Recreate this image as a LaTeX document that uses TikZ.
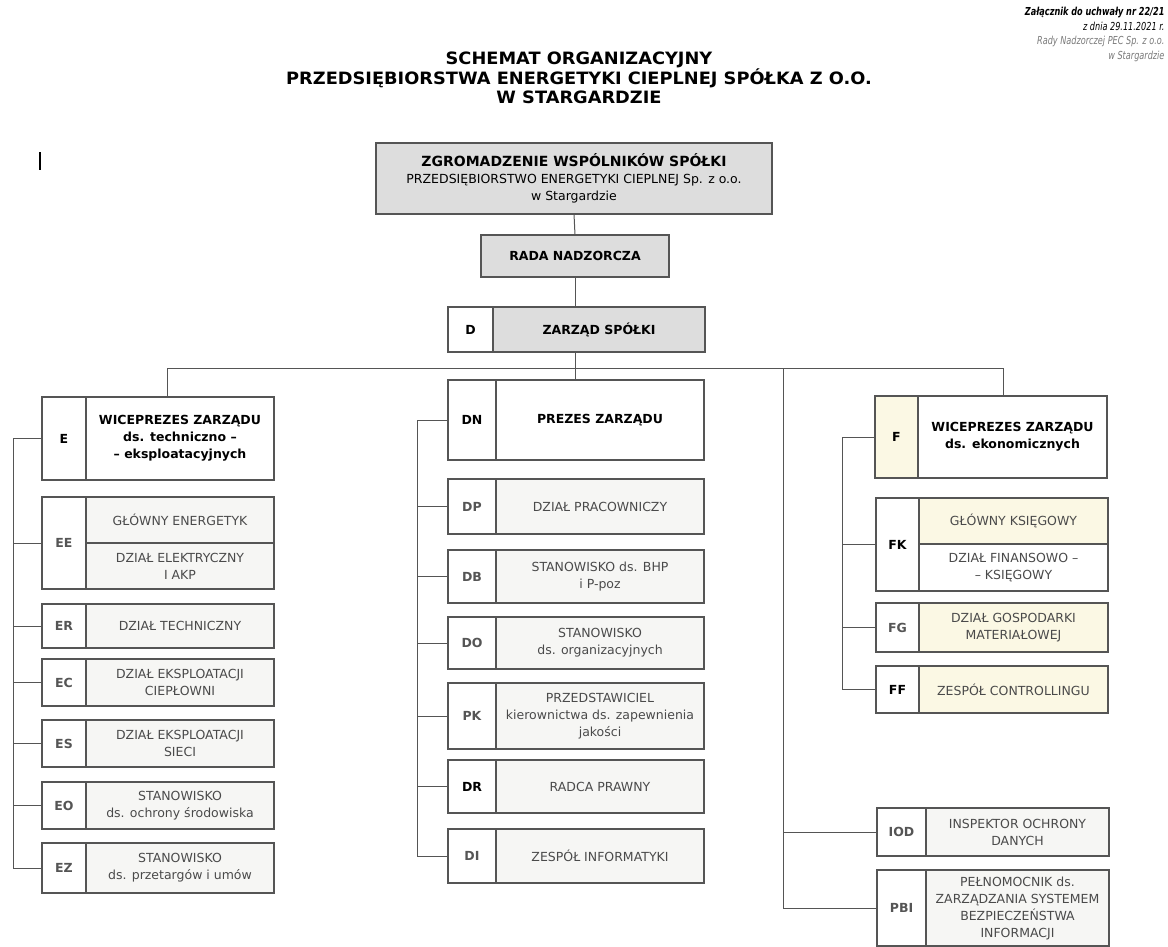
\documentclass[tikz,border=0pt]{standalone}
\usepackage{fontspec}
\setmainfont{DejaVu Sans}
\newfontfamily\titlefont{DejaVu Sans}[FakeStretch=1.045]
\newfontfamily\notefont{DejaVu Sans}[FakeStretch=0.74]
\definecolor{linegray}{HTML}{555555}
\definecolor{boxgray}{HTML}{DDDDDD}
\definecolor{cellgray}{HTML}{F6F6F4}
\definecolor{cellyel}{HTML}{FBF8E4}
\definecolor{txtgray}{HTML}{4A4A4A}
\definecolor{codegray}{HTML}{555555}
\definecolor{notegray}{HTML}{7A7A7A}
\tikzset{
  cell/.style={draw=linegray, line width=1.4pt, inner sep=0pt, outer sep=0pt, anchor=north west,
    align=center, text=txtgray, font=\fontsize{12.5}{17}\selectfont},
  codecell/.style={cell, fill=white, text=codegray, font=\fontsize{12.5}{15}\selectfont\bfseries},
  headcell/.style={cell, text=black, font=\fontsize{12.5}{17}\selectfont\bfseries},
  link/.style={draw=linegray, line width=1pt},
}
\begin{document}
\begin{tikzpicture}[x=1pt,y=-1pt]
\useasboundingbox[fill=white] (0,0) rectangle (1168,946);
% title and note
\node[font=\titlefont\fontsize{17}{19.5}\selectfont\bfseries, align=center] (title) at (579,78)
  {SCHEMAT ORGANIZACYJNY\\PRZEDSIĘBIORSTWA ENERGETYKI CIEPLNEJ SPÓŁKA Z O.O.\\W STARGARDZIE};
\node[anchor=north east, align=right, font=\notefont\fontsize{11}{14.5}\selectfont\itshape] (note) at (1168,4)
  {\bfseries Załącznik do uchwały nr 22/21\\z dnia 29.11.2021 r.\\\color{notegray}Rady Nadzorczej PEC Sp. z o.o.\\\color{notegray}w Stargardzie};
\draw[line width=1.2pt] (40,152) -- (40,170);
% top of the chart
\node[headcell, fill=boxgray, minimum width=396pt, minimum height=71pt] (zgr) at (376,143)
  {\fontsize{14}{17}\selectfont ZGROMADZENIE WSPÓLNIKÓW SPÓŁKI\\
   \fontsize{12.5}{16}\selectfont\mdseries PRZEDSIĘBIORSTWO ENERGETYKI CIEPLNEJ Sp. z o.o.\\
   \fontsize{12.5}{16}\selectfont\mdseries w Stargardzie};
\node[headcell, fill=boxgray, minimum width=188pt, minimum height=42pt] (rada) at (481,235) {RADA NADZORCZA};
\node[codecell, text=black, minimum width=45pt, minimum height=45pt] (D) at (448,307) {D};
\node[headcell, fill=boxgray, minimum width=212pt, minimum height=45pt] (D-t) at (493,307) {ZARZĄD SPÓŁKI};
% left column: E
\node[codecell, text=black, minimum width=44pt, minimum height=83pt] (E) at (42,397) {E};
\node[headcell, fill=white, minimum width=188pt, minimum height=83pt] (E-t) at (86,397)
  {WICEPREZES ZARZĄDU\\ds. techniczno –\\– eksploatacyjnych};
\node[codecell, minimum width=44pt, minimum height=92pt] (EE) at (42,497) {EE};
\node[cell, fill=cellgray, minimum width=188pt, minimum height=46pt] (EE-a) at (86,497) {GŁÓWNY ENERGETYK};
\node[cell, fill=cellgray, minimum width=188pt, minimum height=46pt] (EE-b) at (86,543) {DZIAŁ ELEKTRYCZNY\\I AKP};
\foreach \c/\t/\b/\txt in {ER/604/648/{DZIAŁ TECHNICZNY}, EC/659/706/{DZIAŁ EKSPLOATACJI\\CIEPŁOWNI},
    ES/720/767/{DZIAŁ EKSPLOATACJI\\SIECI}, EO/782/829/{STANOWISKO\\ds. ochrony środowiska},
    EZ/843/893/{STANOWISKO\\ds. przetargów i umów}} {
  \node[codecell, minimum width=44pt, minimum height={(\b-\t)*1pt}] (\c) at (42,\t) {\c};
  \node[cell, fill=cellgray, minimum width=188pt, minimum height={(\b-\t)*1pt}] (\c-t) at (86,\t) {\txt};
}
% middle column: DN
\node[codecell, text=black, minimum width=48pt, minimum height=80pt] (DN) at (448,380) {DN};
\node[headcell, fill=white, minimum width=208pt, minimum height=80pt] (DN-t) at (496,380) {PREZES ZARZĄDU};
\foreach \c/\t/\b/\cc/\txt in {DP/479/534/codegray/{DZIAŁ PRACOWNICZY}, DB/550/603/codegray/{STANOWISKO ds. BHP\\i P-poz},
    DO/617/669/codegray/{STANOWISKO\\ds. organizacyjnych}, PK/683/749/codegray/{PRZEDSTAWICIEL\\kierownictwa ds. zapewnienia\\jakości},
    DR/760/813/black/{RADCA PRAWNY}, DI/829/883/codegray/{ZESPÓŁ INFORMATYKI}} {
  \node[codecell, text=\cc, minimum width=48pt, minimum height={(\b-\t)*1pt}] (\c) at (448,\t) {\c};
  \node[cell, fill=cellgray, minimum width=208pt, minimum height={(\b-\t)*1pt}] (\c-t) at (496,\t) {\txt};
}
% right column: F
\node[codecell, fill=cellyel, text=black, minimum width=43pt, minimum height=82pt] (F) at (875,396) {F};
\node[headcell, fill=white, minimum width=189pt, minimum height=82pt] (F-t) at (918,396) {WICEPREZES ZARZĄDU\\ds. ekonomicznych};
\node[codecell, text=black, minimum width=43pt, minimum height=93pt] (FK) at (876,498) {FK};
\node[cell, fill=cellyel, minimum width=189pt, minimum height=46pt] (FK-a) at (919,498) {GŁÓWNY KSIĘGOWY};
\node[cell, fill=white, minimum width=189pt, minimum height=47pt] (FK-b) at (919,544) {DZIAŁ FINANSOWO –\\– KSIĘGOWY};
\foreach \c/\t/\b/\cc/\txt in {FG/603/652/codegray/{DZIAŁ GOSPODARKI\\MATERIAŁOWEJ}, FF/666/713/black/{ZESPÓŁ CONTROLLINGU}} {
  \node[codecell, text=\cc, minimum width=43pt, minimum height={(\b-\t)*1pt}] (\c) at (876,\t) {\c};
  \node[cell, fill=cellyel, minimum width=189pt, minimum height={(\b-\t)*1pt}] (\c-t) at (919,\t) {\txt};
}
% separate posts
\foreach \c/\t/\b/\txt in {IOD/808/856/{INSPEKTOR OCHRONY\\DANYCH}, PBI/870/946/{PEŁNOMOCNIK ds.\\ZARZĄDZANIA SYSTEMEM\\BEZPIECZEŃSTWA\\INFORMACJI}} {
  \node[codecell, minimum width=49pt, minimum height={(\b-\t)*1pt}] (\c) at (877,\t) {\c};
  \node[cell, fill=cellgray, minimum width=183pt, minimum height={(\b-\t)*1pt}] (\c-t) at (926,\t) {\txt};
}
% connectors
\coordinate (busL) at (167,368);
\coordinate (busR) at (1003,368);
\coordinate (busM) at (783,368);
\coordinate (spineE) at (13,0);
\coordinate (spineD) at (417,0);
\coordinate (spineF) at (842,0);
\draw[link] (zgr.south) -- (rada.north);
\draw[link] (rada.south) -- (rada.south |- D-t.north);
\draw[link] (rada.south |- D-t.south) -- (rada.south |- DN-t.north);
\draw[link] (busL) -- (busR);
\draw[link] (busL) -- (busL |- E-t.north);
\draw[link] (busR) -- (busR |- F-t.north);
\draw[link] (busM) -- (busM |- PBI.west) -- (PBI.west);
\draw[link] (busM |- IOD.west) -- (IOD.west);
\draw[link] (spineE |- E.west) -- (spineE |- EZ.west);
\foreach \c in {E,EE,ER,EC,ES,EO,EZ} \draw[link] (spineE |- \c.west) -- (\c.west);
\draw[link] (spineD |- DN.west) -- (spineD |- DI.west);
\foreach \c in {DN,DP,DB,DO,PK,DR,DI} \draw[link] (spineD |- \c.west) -- (\c.west);
\draw[link] (spineF |- F.west) -- (spineF |- FF.west);
\foreach \c in {F,FK,FG,FF} \draw[link] (spineF |- \c.west) -- (\c.west);
\end{tikzpicture}
\end{document}
